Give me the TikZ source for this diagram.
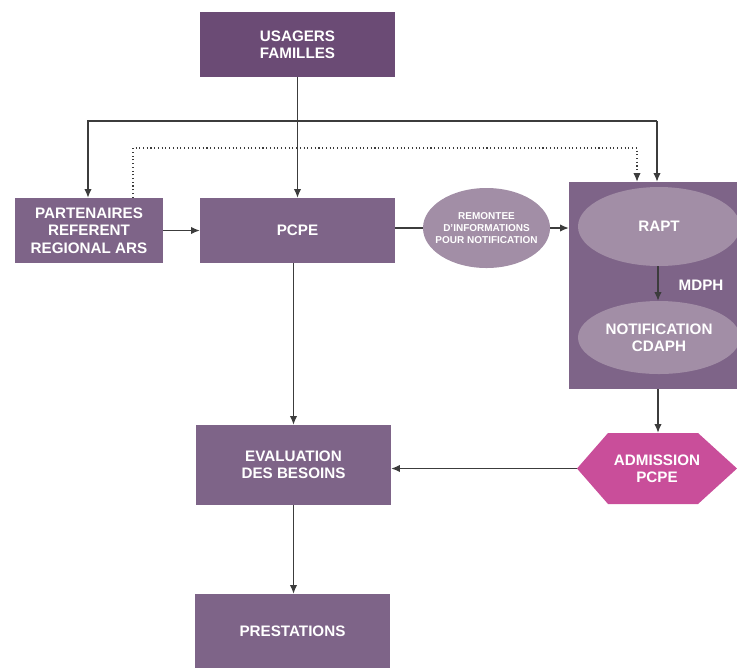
\documentclass[tikz,border=0pt]{standalone}
\usepackage{fontspec}
\setmainfont{Liberation Sans}
\usetikzlibrary{arrows.meta}
\definecolor{boxc}{HTML}{7E6488}
\definecolor{topc}{HTML}{6B4B75}
\definecolor{ellc}{HTML}{A28EA6}
\definecolor{pinkc}{HTML}{C94E9A}
\definecolor{linec}{HTML}{3C3C3C}
\begin{document}
\begin{tikzpicture}[x=0.75pt,y=-0.75pt,
  every node/.style={font=\bfseries\fontsize{11.4}{13}\selectfont,text=white,align=center,inner sep=0pt},
  pbox/.style={rectangle,fill=boxc,minimum width=146.25pt,minimum height=48.75pt},
  conn/.style={draw=linec,line width=0.9pt,-{Latex[length=6.5pt,width=5.5pt]}},
  plain/.style={draw=linec,line width=0.9pt},
  dotconn/.style={draw=linec,line width=0.8pt,dotted,-{Latex[length=6.5pt,width=5.5pt]}}]
\useasboundingbox (0,0) rectangle (737,669);
% nodes
\node[pbox,fill=topc] (usagers) at (297.5,44.5) {USAGERS\\FAMILLES};
\node[pbox,minimum width=111pt] (part) at (89,230.5) {PARTENAIRES\\REFERENT\\REGIONAL ARS};
\node[pbox] (pcpe) at (297.5,230.5) {PCPE};
\fill[ellc] (486.5,228) ellipse [x radius=63.5, y radius=40];
\node[minimum width=95.25pt,minimum height=60pt,font=\bfseries\fontsize{7.5}{8.8}\selectfont] (rem) at (486.5,228) {REMONTEE\\D'INFORMATIONS\\POUR NOTIFICATION};
\node[rectangle,fill=boxc,minimum width=128.25pt,minimum height=155.25pt] (cont) at (654.5,285.5) {};
\fill[ellc] (659,226.5) ellipse [x radius=81, y radius=39.5];
\node[minimum width=121.5pt,minimum height=59.25pt] (rapt) at (659,226.5) {RAPT};
\fill[ellc] (659,337.5) ellipse [x radius=81, y radius=36.5];
\node[minimum width=121.5pt,minimum height=54.75pt] (notif) at (659,337.5) {NOTIFICATION\\CDAPH};
\node (mdph) at (701,285) {MDPH};
\fill[pinkc] (577,468.5) -- (608,433) -- (698,433) -- (737,468.5) -- (698,504) -- (608,504) -- cycle;
\node[minimum width=120pt,minimum height=53.25pt] (adm) at (657,468.5) {ADMISSION\\PCPE};
\node[pbox,minimum height=60pt] (eval) at (293.5,465) {EVALUATION\\DES BESOINS};
\node[pbox,minimum height=55.5pt] (prest) at (292.5,631) {PRESTATIONS};
% coordinates
\coordinate (j) at (297.5,121);
\coordinate (jr) at (657,121);
\coordinate (d1) at (133,148);
\coordinate (d2) at (637,148);
% connectors
\draw[plain] (usagers) -- (j);
\draw[conn] (j) -| (part.north -| 88,0);
\draw[conn] (j) -- (pcpe);
\draw[plain] (j) -- (jr);
\draw[conn] (jr) -- (jr |- cont.north);
\draw[dotconn] (part.north -| d1) |- (d2) -- (d2 |- cont.north);
\draw[conn] (part) -- (pcpe);
\draw[plain] (pcpe.east |- rem.west) -- (rem.west);
\draw[conn] (rem.east) -- (cont.west |- rem.east);
\draw[conn] (rapt.south -| 658,0) -- (notif.north -| 658,0);
\draw[conn] (cont.south -| 658,0) -- (adm.north -| 658,0);
\draw[conn] (adm.west) -- (eval.east |- adm.west);
\draw[conn] (pcpe.south -| eval) -- (eval);
\draw[conn] (eval) -- (prest.north -| eval);
\end{tikzpicture}
\end{document}
